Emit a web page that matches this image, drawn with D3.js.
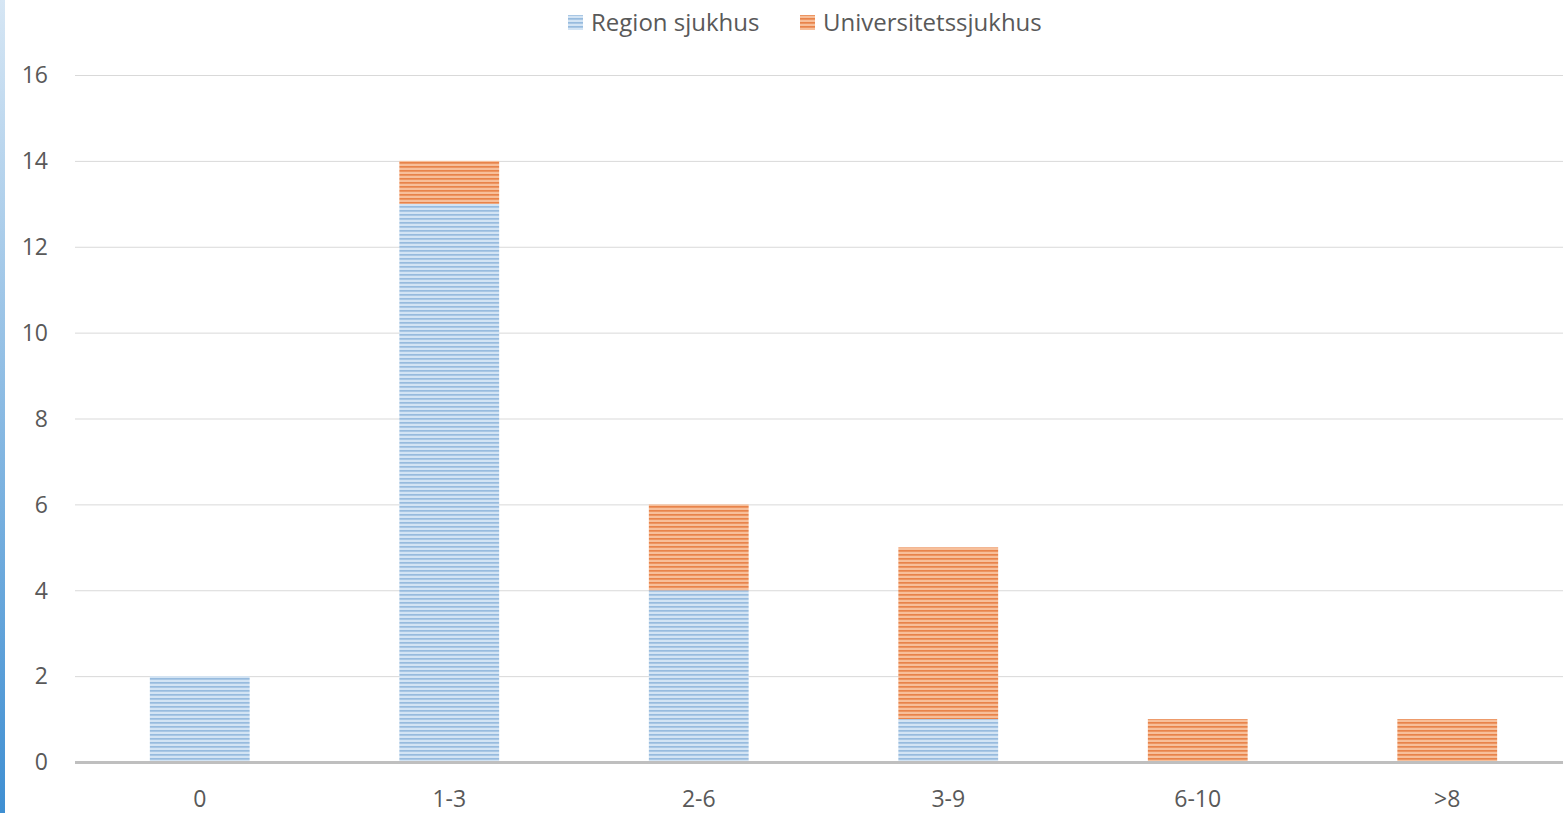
<!DOCTYPE html>
<meta charset="utf-8">
<style>
body { margin: 0; background: #fff; }
text { font-family: "Open Sans", Lato, sans-serif; fill: #595959; }
</style>
<body>
<script src="https://cdn.jsdelivr.net/npm/d3@7"></script>
<script>
var width = 1563,
    height = 813;

// data
var categories = ["0", "1-3", "2-6", "3-9", "6-10", ">8"];
var region = [2, 13, 4, 1, 0, 0];
var univ = [0, 1, 2, 4, 1, 1];
var seriesNames = ["Region sjukhus", "Universitetssjukhus"];
var yTicks = [0, 2, 4, 6, 8, 10, 12, 14, 16];

var svg = d3.select("body").append("svg")
    .attr("width", width)
    .attr("height", height);

var defs = svg.append("defs");

// left edge strip
var grad = defs.append("linearGradient").attr("id", "edge")
    .attr("x1", 0).attr("y1", 0).attr("x2", 0).attr("y2", 1);
grad.append("stop").attr("offset", "0%").attr("stop-color", "#d6e6f4");
grad.append("stop").attr("offset", "100%").attr("stop-color", "#3f8fd2");
svg.append("rect").attr("x", 0).attr("y", 0).attr("width", 5).attr("height", height)
    .attr("fill", "url(#edge)");

// striped patterns
function stripes(id, light, dark) {
  var p = defs.append("pattern").attr("id", id)
      .attr("patternUnits", "userSpaceOnUse")
      .attr("width", 8).attr("height", 4);
  p.append("rect").attr("width", 8).attr("height", 4).attr("fill", light);
  p.append("rect").attr("y", 2).attr("width", 8).attr("height", 1.7).attr("fill", dark);
}
stripes("pBlue", "#d3e4f4", "#97bbde");
stripes("pOrange", "#f7bf9a", "#e8834a");
var fills = ["url(#pBlue)", "url(#pOrange)"];

var plotLeft = 75, plotRight = 1563, plotTop = 75, plotBottom = 762;

// the category bands run a little past the right edge of the picture
var x = d3.scaleBand().domain(categories).range([plotLeft, 1572]).padding(0);
var y = d3.scaleLinear().domain([0, 16]).range([plotBottom, plotTop]);
var barW = x.bandwidth() * 0.4;

// gridlines
svg.append("g").selectAll("line").data(yTicks.filter(function(d) { return d > 0; }))
  .enter().append("line")
    .attr("x1", plotLeft).attr("x2", plotRight)
    .attr("y1", function(d) { return y(d) + 0.5; })
    .attr("y2", function(d) { return y(d) + 0.5; })
    .attr("stroke", "#d9d9d9").attr("stroke-width", 1);

// y labels
svg.append("g").selectAll("text").data(yTicks)
  .enter().append("text")
    .attr("x", 48).attr("y", function(d) { return y(d); })
    .attr("dy", "0.36em")
    .attr("text-anchor", "end")
    .style("font-size", "23px")
    .text(function(d) { return d; });

// stacked bars
var rows = categories.map(function(c, i) { return { cat: c, r: region[i], u: univ[i] }; });
var stack = d3.stack().keys(["r", "u"])(rows);

svg.append("g").selectAll("g").data(stack)
  .enter().append("g")
    .attr("fill", function(d, i) { return fills[i]; })
  .selectAll("rect").data(function(d) { return d.filter(function(s) { return s[1] > s[0]; }); })
  .enter().append("rect")
    .attr("x", function(d) { return x(d.data.cat) + (x.bandwidth() - barW) / 2; })
    .attr("width", barW)
    .attr("y", function(d) { return y(d[1]); })
    .attr("height", function(d) { return y(d[0]) - y(d[1]); });

// baseline
svg.append("line")
    .attr("x1", plotLeft).attr("x2", plotRight)
    .attr("y1", plotBottom + 0.5).attr("y2", plotBottom + 0.5)
    .attr("stroke", "#bfbfbf").attr("stroke-width", 3);

// x labels
svg.append("g").selectAll("text").data(categories)
  .enter().append("text")
    .attr("x", function(d) { return x(d) + x.bandwidth() / 2; })
    .attr("y", 807)
    .attr("text-anchor", "middle")
    .style("font-size", "23px")
    .text(function(d) { return d; });

// legend
var legendX = [568, 800];
var lg = svg.append("g").selectAll("g").data(seriesNames)
  .enter().append("g")
    .attr("transform", function(d, i) { return "translate(" + legendX[i] + ",0)"; });
lg.append("rect")
    .attr("x", 0).attr("y", 15).attr("width", 15).attr("height", 15)
    .attr("fill", function(d, i) { return fills[i]; });
lg.append("text")
    .attr("x", 23).attr("y", 31)
    .style("font-size", "24px")
    .text(function(d) { return d; });
</script>
</body>
</html>
